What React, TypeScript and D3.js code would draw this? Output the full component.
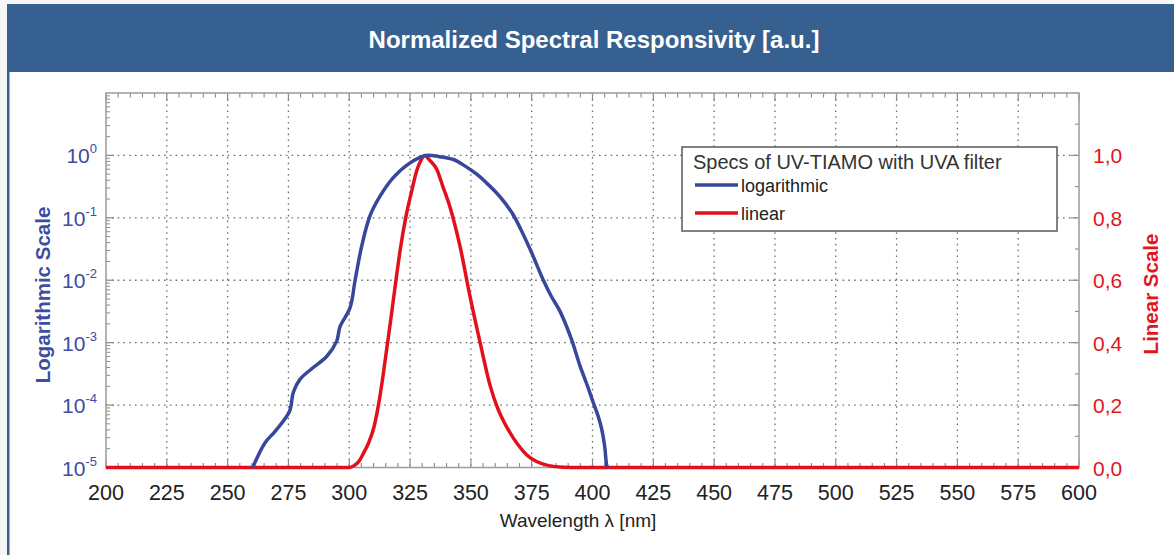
import React from "react";
import * as d3 from "d3";

// ---------- data ----------
const titleText = "Normalized Spectral Responsivity [a.u.]";
const xTicks = [200, 225, 250, 275, 300, 325, 350, 375, 400, 425, 450, 475, 500, 525, 550, 575, 600];
const logTickExps = [-5, -4, -3, -2, -1, 0];
const linTicks = [0, 0.2, 0.4, 0.6, 0.8, 1.0];
const linTickLabels = ["0,0", "0,2", "0,4", "0,6", "0,8", "1,0"];

// logarithmic series (wavelength nm, responsivity)
const logNm = [260.3, 265.4, 269.5, 275.4, 277, 279.8, 285.2, 290.7, 294.8, 296.2, 300.3, 302.4, 305.1, 308.5, 312.6, 318.1, 325, 331.5, 337, 342.8, 347.5, 352.4, 356.5, 360.6, 364, 367.4, 371, 375, 379.8, 383, 386.6, 391.4, 394.9, 398, 400.3, 402.5, 403.8, 405, 405.8, 406.2];
const logVal = [1.0e-5, 2.5e-5, 3.8e-5, 7.9e-5, 1.6e-4, 2.6e-4, 4.0e-4, 6.0e-4, 1.05e-3, 1.8e-3, 3.6e-3, 1.0e-2, 3.5e-2, 0.107, 0.22, 0.44, 0.76, 1.0, 0.955, 0.86, 0.68, 0.5, 0.36, 0.25, 0.174, 0.112, 0.06, 0.0275, 0.01, 5.6e-3, 3.2e-3, 1.12e-3, 4.2e-4, 2.0e-4, 1.1e-4, 6.3e-5, 4.1e-5, 2.2e-5, 1.1e-5, 1.0e-5];

// linear series
const linNm = [200, 300, 302, 304, 305.8, 308, 310, 312, 314, 315.4, 317, 319.2, 321, 323.2, 325.5, 327.7, 329.5, 331.1, 333, 336, 338.5, 341.4, 345.5, 349.6, 353.8, 358, 361, 364, 367.4, 370.2, 373, 377, 382, 388, 395, 600];
const linVal = [0, 0, 0.006, 0.02, 0.045, 0.08, 0.125, 0.2, 0.3, 0.38, 0.47, 0.6, 0.7, 0.8, 0.88, 0.95, 0.985, 1.0, 0.985, 0.955, 0.9, 0.835, 0.71, 0.55, 0.4, 0.26, 0.19, 0.14, 0.095, 0.065, 0.04, 0.019, 0.006, 0.001, 0, 0];

const legendTitle = "Specs of UV-TIAMO with UVA filter";
const legendNames = ["logarithmic", "linear"];

// ---------- style ----------
const W = 1174;
const H = 555;
const L = 106, R = 1079, T = 93, B = 467.5;
const BLUE = "#38479b";
const RED = "#e3101b";
const HEADER = "#36608f";
const FONT = "'Liberation Sans', Arial, Helvetica, sans-serif";

export default function App() {
  const x = d3.scaleLinear().domain([200, 600]).range([L, R]);
  const yLog = d3.scaleLog().domain([1e-5, 10]).range([B, T]);
  const yLin = d3.scaleLinear().domain([0, 1.2]).range([B, T]);

  const blueLine = d3
    .line<number>()
    .x((_, i) => x(logNm[i]))
    .y((_, i) => Math.min(B, yLog(logVal[i])))
    .curve(d3.curveCatmullRom.alpha(0.5));
  const redLine = d3
    .line<number>()
    .x((_, i) => x(linNm[i]))
    .y((_, i) => Math.min(B, yLin(linVal[i])))
    .curve(d3.curveMonotoneX);

  const minorX = d3.range(200, 601, 5).filter((v) => v % 25 !== 0);
  const minorLog: number[] = [];
  for (let e = -5; e <= 0; e++) for (let k = 2; k <= 9; k++) minorLog.push(k * Math.pow(10, e));
  const minorLin = [0.1, 0.3, 0.5, 0.7, 0.9, 1.1];

  const gridStyle = { stroke: "#707070", strokeWidth: 1.3, strokeDasharray: "1.6,4.2" };
  const tickColor = "#8a8a8a";

  return (
    <svg width={W} height={H} style={{ position: "absolute", left: 0, top: 0 }} fontFamily={FONT}>
      <defs>
        <clipPath id="plotclip">
          <rect x={L} y={T} width={R - L} height={B - T + 3} />
        </clipPath>
      </defs>
      <rect x={0} y={0} width={W} height={H} fill="#f6f6f6" />
      <rect x={7} y={4} width={W - 7} height={68} fill={HEADER} />
      <rect x={7} y={72} width={W - 7} height={H - 72} fill="#ffffff" />
      <rect x={7} y={72} width={2.5} height={H - 72} fill={HEADER} />
      <text x={594} y={48} textAnchor="middle" fill="#ffffff" fontWeight="bold" fontSize={24}>
        {titleText}
      </text>

      {/* grid */}
      {xTicks.slice(1, -1).map((t) => (
        <line key={"gx" + t} x1={x(t)} x2={x(t)} y1={T} y2={B} {...gridStyle} />
      ))}
      {logTickExps.slice(1).map((e) => (
        <line key={"gy" + e} x1={L} x2={R} y1={yLog(Math.pow(10, e))} y2={yLog(Math.pow(10, e))} {...gridStyle} />
      ))}

      {/* ticks */}
      {xTicks.map((t) => (
        <g key={"tx" + t}>
          <line x1={x(t)} x2={x(t)} y1={B} y2={B - 8} stroke={tickColor} strokeWidth={1.2} />
          <line x1={x(t)} x2={x(t)} y1={T} y2={T + 8} stroke={tickColor} strokeWidth={1.2} />
        </g>
      ))}
      {minorX.map((t) => (
        <g key={"mx" + t}>
          <line x1={x(t)} x2={x(t)} y1={B} y2={B - 4.5} stroke={tickColor} strokeWidth={1.1} />
          <line x1={x(t)} x2={x(t)} y1={T} y2={T + 4.5} stroke={tickColor} strokeWidth={1.1} />
        </g>
      ))}
      {logTickExps.map((e) => (
        <line key={"ty" + e} x1={L} x2={L + 8} y1={yLog(Math.pow(10, e))} y2={yLog(Math.pow(10, e))} stroke={tickColor} strokeWidth={1.2} />
      ))}
      {minorLog.map((v, i) => (
        <line key={"my" + i} x1={L} x2={L + 4} y1={yLog(v)} y2={yLog(v)} stroke={tickColor} strokeWidth={1} />
      ))}
      {linTicks.map((v) => (
        <line key={"tr" + v} x1={R} x2={R - 8} y1={yLin(v)} y2={yLin(v)} stroke={tickColor} strokeWidth={1.2} />
      ))}
      {minorLin.map((v) => (
        <line key={"mr" + v} x1={R} x2={R - 4} y1={yLin(v)} y2={yLin(v)} stroke={tickColor} strokeWidth={1.1} />
      ))}

      {/* frame */}
      <rect x={L} y={T} width={R - L} height={B - T} fill="none" stroke="#a0a0a0" strokeWidth={1.6} />

      {/* curves */}
      <g clipPath="url(#plotclip)">
        <path d={redLine(linNm) || ""} fill="none" stroke={RED} strokeWidth={3.5} strokeLinejoin="round" />
        <path d={blueLine(logNm) || ""} fill="none" stroke={BLUE} strokeWidth={3.5} strokeLinejoin="round" />
      </g>

      {/* x tick labels */}
      {xTicks.map((t) => (
        <text key={"lx" + t} x={x(t)} y={500} textAnchor="middle" fontSize={21.5} fill="#222">
          {t}
        </text>
      ))}
      <text x={578} y={527} textAnchor="middle" fontSize={19} fill="#222">
        Wavelength λ [nm]
      </text>

      {/* left labels */}
      {logTickExps.map((e) => (
        <text key={"ll" + e} x={97} y={yLog(Math.pow(10, e)) + 8} textAnchor="end" fontSize={21} fill="#3d4da0">
          <tspan>10</tspan>
          <tspan dy={-10} fontSize={13}>
            {e}
          </tspan>
        </text>
      ))}
      <text transform={`translate(50,295) rotate(-90)`} textAnchor="middle" fontSize={20.5} fontWeight="bold" fill="#3d4da0">
        Logarithmic Scale
      </text>

      {/* right labels */}
      {linTicks.map((v, i) => (
        <text key={"lr" + v} x={1093} y={yLin(v) + 8} textAnchor="start" fontSize={21} fill="#e3141c">
          {linTickLabels[i]}
        </text>
      ))}
      <text transform={`translate(1158,294) rotate(-90)`} textAnchor="middle" fontSize={20.5} fontWeight="bold" fill="#e3141c">
        Linear Scale
      </text>

      {/* legend */}
      <rect x={682} y={147} width={375} height={84} fill="#ffffff" stroke="#5a5a5a" strokeWidth={1.5} />
      <text x={693} y={169} fontSize={20} fill="#333">
        {legendTitle}
      </text>
      <line x1={695} x2={738} y1={185} y2={185} stroke={BLUE} strokeWidth={3.5} />
      <text x={741} y={191.5} fontSize={18} fill="#222">
        {legendNames[0]}
      </text>
      <line x1={695} x2={738} y1={213} y2={213} stroke={RED} strokeWidth={3.5} />
      <text x={741} y={220} fontSize={18} fill="#222">
        {legendNames[1]}
      </text>
    </svg>
  );
}
